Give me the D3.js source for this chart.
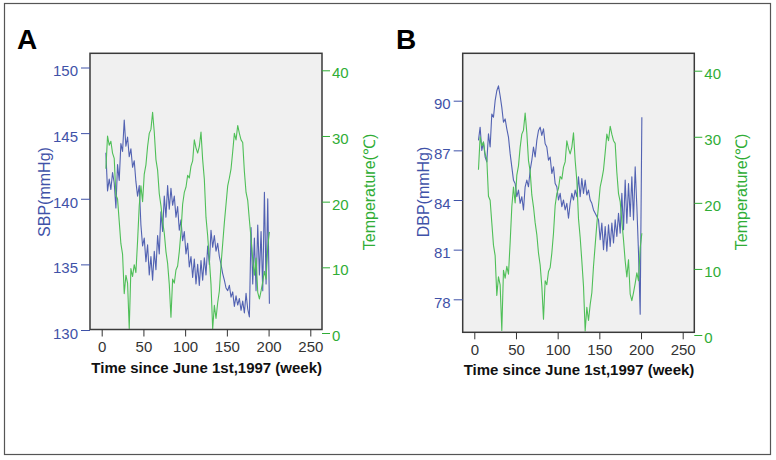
<!DOCTYPE html>
<html><head><meta charset="utf-8">
<script src="https://cdn.jsdelivr.net/npm/d3@7"></script>
<style>body{margin:0;background:#fff}svg{display:block}</style>
</head><body><svg id="c" width="776" height="460"></svg>
<script>
const weeks = [5,7,9,11,13,15,17,19,21,23,25,27,29,31,33,35,37,39,41,43,45,47,49,51,53,55,57,59,61,63,65,67,69,71,73,75,77,79,81,83,85,87,89,91,93,95,97,99,101,103,105,107,109,111,113,115,117,119,121,123,125,127,129,131,133,135,137,139,141,143,145,147,149,151,153,155,157,159,161,163,165,167,169,171,173,175,177,179,181,183,185,187,189,191,193,195,197,199,201];
const sbp = [143.5,140.6,141.5,140.7,142.0,141.2,139.3,142.6,141.4,144.2,143.6,146.0,144.0,144.7,143.2,143.8,142.4,142.9,141.3,140.2,141.0,138.0,136.4,137.0,135.2,136.5,134.2,135.6,133.8,136.0,134.6,137.2,135.8,139.0,137.5,140.2,138.6,141.0,139.2,140.8,139.5,140.2,138.6,139.4,137.6,138.4,136.8,137.5,135.8,136.6,134.8,135.6,134.0,135.4,133.5,135.0,133.4,135.3,133.8,135.5,134.2,136.4,135.0,137.6,136.3,137.2,136.0,136.6,135.6,135.0,134.3,133.8,133.2,133.0,133.4,132.5,132.9,131.8,132.6,131.9,132.4,131.5,132.2,131.3,132.8,131.6,131.0,137.8,133.5,137.0,133.0,138.0,134.2,137.5,133.0,140.5,133.5,140.0,132.0];
const dbp = [87.6,88.4,87.0,87.5,86.6,86.3,88.0,87.2,89.2,89.0,90.0,90.6,90.9,90.3,89.6,88.7,88.9,88.3,87.8,86.8,86.0,85.2,85.0,84.2,84.6,83.8,84.2,83.4,84.8,85.2,84.8,85.8,86.4,87.2,86.6,87.6,88.2,88.4,87.9,88.3,87.4,87.2,86.4,86.6,85.6,86.0,85.0,84.8,84.0,84.4,83.6,84.0,83.4,83.8,82.9,83.8,84.4,84.0,84.6,84.2,85.4,84.2,85.3,84.4,85.2,84.3,84.6,84.0,83.8,83.4,83.2,83.0,82.8,81.6,82.6,81.0,82.4,80.9,82.5,81.2,82.6,81.4,82.8,81.8,83.2,82.0,84.4,82.2,85.2,82.6,85.0,83.0,85.4,82.8,86.0,83.6,80.8,77.1,89.0];
const temperature = [25.0,30.0,28.6,29.2,27.4,26.6,21.0,20.4,17.0,13.6,12.0,6.0,8.8,7.6,0.7,9.8,8.6,10.4,9.2,14.0,19.4,22.4,20.0,24.2,25.6,28.4,30.4,31.0,33.6,30.6,26.4,24.8,21.2,19.4,17.0,15.2,12.4,10.6,7.4,2.4,8.2,7.6,9.6,10.2,12.4,15.4,19.6,21.4,22.2,24.0,23.6,25.4,26.2,29.4,28.2,27.4,28.4,30.6,26.4,23.4,17.6,14.8,11.2,7.4,0.6,4.2,2.2,4.6,6.4,10.4,13.6,16.8,19.6,22.4,23.6,25.0,27.6,30.4,29.4,31.6,30.4,29.4,29.0,24.6,21.4,20.2,17.2,14.4,11.2,8.8,11.4,6.2,5.2,6.4,7.8,9.4,8.2,13.2,15.4];
const xTicks = [0,50,100,150,200,250];
const sbpTicks = [130,135,140,145,150];
const dbpTicks = [78,81,84,87,90];
const tempTicks = [0,10,20,30,40];

const BLUE_LINE = "#5262b2", GREEN_LINE = "#4fbf58";
const BLUE_TXT = "#3f52a8", GREEN_TXT = "#30ad36";
const FONT = "'Liberation Sans', Arial, sans-serif";

const svg = d3.select("#c");
svg.append("rect").attr("x",4.5).attr("y",3.5).attr("width",766).attr("height",451)
  .attr("fill","#fff").attr("stroke","#555").attr("stroke-width",1.2);

const panels = [
  {label:"A", lx:17, bx0:90, bx1:322, by0:53.3, by1:329.5, xr:[101.7,310.3],
   yl:{dom:[130,150], rng:[330,67.5], ticks:sbpTicks, title:"SBP(mmHg)", tx:44},
   yr:{rng:[333,70.3], title:"Temperature(\u2103)", tx:369},
   series:sbp, xtitle:{x:206.7,y:373}},
  {label:"B", lx:396, bx0:462.7, bx1:694.3, by0:53.3, by1:332.3, xr:[474.3,682.7],
   yl:{dom:[78,90], rng:[299.3,100.7], ticks:dbpTicks, title:"DBP(mmHg)", tx:423.5},
   yr:{rng:[335,70.7], title:"Temperature(\u2103)", tx:741.5},
   series:dbp, xtitle:{x:579,y:375}}
];

panels.forEach(p => {
  const g = svg.append("g");
  g.append("text").attr("x",p.lx).attr("y",49).text(p.label)
    .attr("font-family",FONT).attr("font-weight","bold").attr("font-size",28).attr("fill","#000");
  g.append("rect").attr("x",p.bx0).attr("y",p.by0).attr("width",p.bx1-p.bx0).attr("height",p.by1-p.by0)
    .attr("fill","#f0f0f0");
  const x = d3.scaleLinear().domain([0,250]).range(p.xr);
  const yL = d3.scaleLinear().domain(p.yl.dom).range(p.yl.rng);
  const yR = d3.scaleLinear().domain([0,40]).range(p.yr.rng);

  const lineL = d3.line().x((d,i)=>x(weeks[i])).y(d=>yL(d));
  const lineR = d3.line().x((d,i)=>x(weeks[i])).y(d=>yR(d));
  g.append("path").datum(p.series).attr("d",lineL).attr("fill","none")
    .attr("stroke",BLUE_LINE).attr("stroke-width",1.1).attr("stroke-linejoin","round");
  g.append("path").datum(temperature).attr("d",lineR).attr("fill","none")
    .attr("stroke",GREEN_LINE).attr("stroke-width",1.1).attr("stroke-linejoin","round");

  g.append("rect").attr("x",p.bx0).attr("y",p.by0).attr("width",p.bx1-p.bx0).attr("height",p.by1-p.by0)
    .attr("fill","none").attr("stroke","#3a3a3a").attr("stroke-width",1.5);

  // left axis
  const axL = g.append("g").attr("transform",`translate(${p.bx0},0)`)
    .call(d3.axisLeft(yL).tickValues(p.yl.ticks).tickSize(9).tickPadding(3).tickFormat(d3.format("d")));
  axL.select(".domain").remove();
  axL.selectAll("line").attr("stroke",BLUE_TXT);
  axL.selectAll("text").attr("fill",BLUE_TXT).attr("font-family",FONT).attr("font-size",15).attr("dy","0.55em");

  // right axis
  const axR = g.append("g").attr("transform",`translate(${p.bx1},0)`)
    .call(d3.axisRight(yR).tickValues(tempTicks).tickSize(8).tickPadding(2).tickFormat(d3.format("d")));
  axR.select(".domain").remove();
  axR.selectAll("line").attr("stroke",GREEN_TXT);
  axR.selectAll("text").attr("fill",GREEN_TXT).attr("font-family",FONT).attr("font-size",15).attr("dy","0.5em");

  // bottom axis
  const axB = g.append("g").attr("transform",`translate(0,${p.by1})`)
    .call(d3.axisBottom(x).tickValues(xTicks).tickSize(7).tickPadding(5));
  axB.select(".domain").remove();
  axB.selectAll("line").attr("stroke","#333");
  axB.selectAll("text").attr("fill","#333").attr("font-family",FONT).attr("font-size",15);

  // titles
  g.append("text").attr("transform",`translate(${p.yl.tx},192) rotate(-90)`)
    .attr("text-anchor","middle").attr("dominant-baseline","central")
    .attr("font-family",FONT).attr("font-size",16).attr("fill",BLUE_TXT).text(p.yl.title);
  g.append("text").attr("transform",`translate(${p.yr.tx},192) rotate(-90)`)
    .attr("text-anchor","middle").attr("dominant-baseline","central")
    .attr("font-family",FONT).attr("font-size",16).attr("fill",GREEN_TXT).text(p.yr.title);
  g.append("text").attr("x",p.xtitle.x).attr("y",p.xtitle.y).attr("text-anchor","middle")
    .attr("font-family",FONT).attr("font-weight","bold").attr("font-size",15).attr("fill","#111")
    .text("Time since June 1st,1997 (week)");
});
</script></body></html>
